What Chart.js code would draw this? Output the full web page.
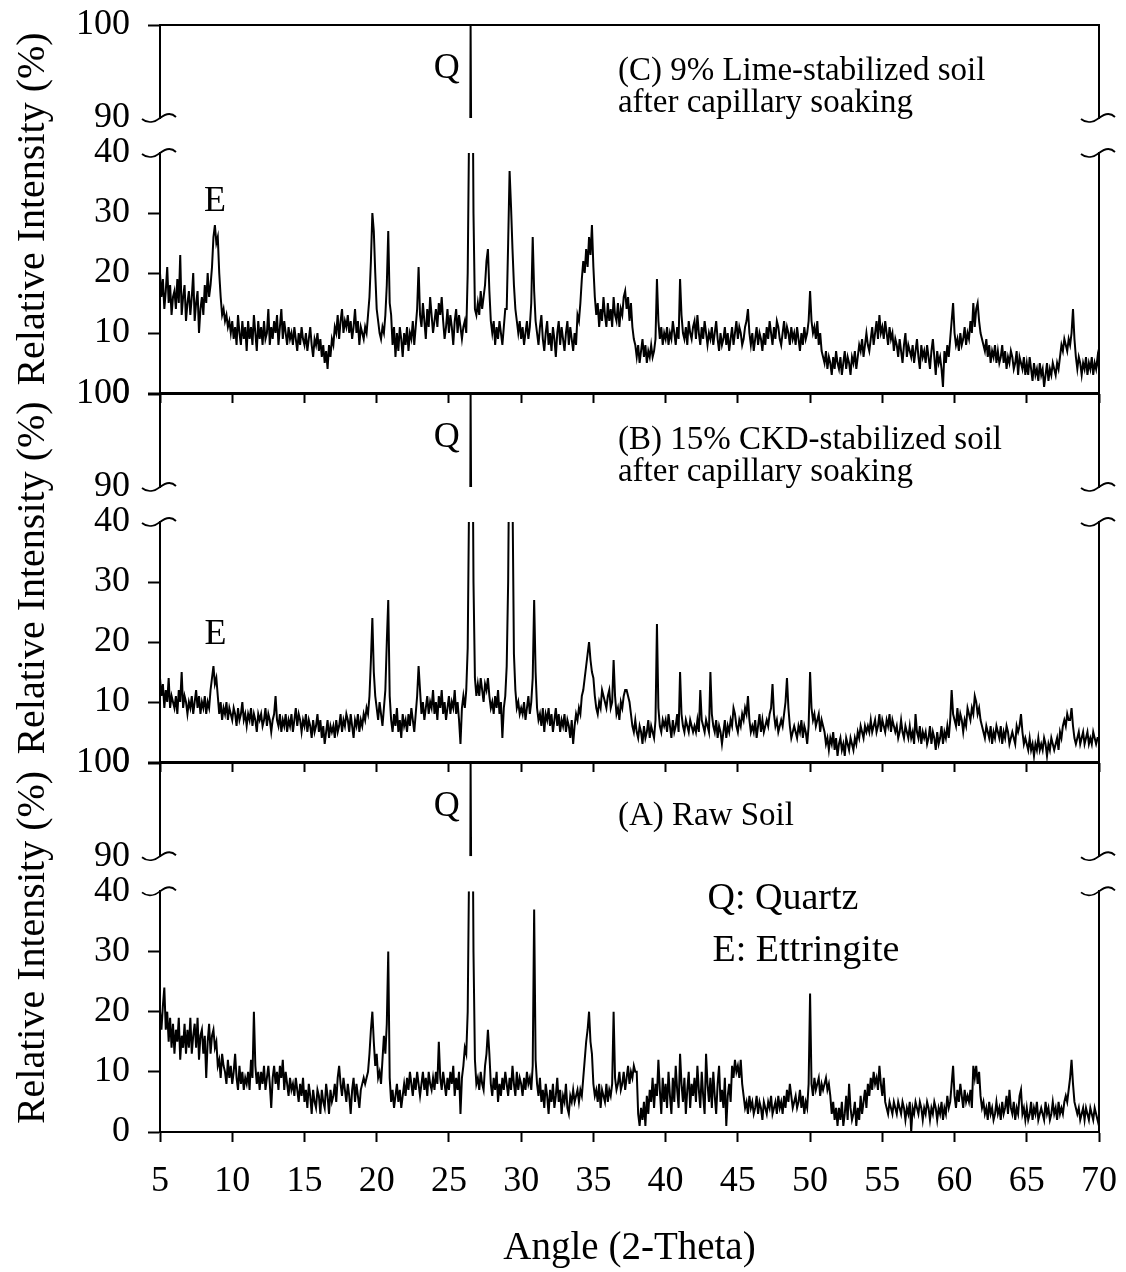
<!DOCTYPE html>
<html lang="en">
<head>
<meta charset="UTF-8">
<title>XRD patterns</title>
<style>
  body { margin: 0; background: #fff; }
  #wrap { position: relative; width: 1126px; height: 1272px; }
  #wrap canvas { position: absolute; left: 0; }
</style>
</head>
<body>
<div id="wrap">
  <canvas id="chartC"></canvas>
  <canvas id="chartB"></canvas>
  <canvas id="chartA"></canvas>
</div>
<script src="https://cdn.jsdelivr.net/npm/chart.js"></script>
<script>
// 2-theta sampling grid, 5.0 .. 70.0 in 0.1 steps
const angles = Array.from({length: 651}, (_, i) => Math.round(50 + i) / 10);

// (C) 9% lime-stabilized soil, one row per degree
const limeSoil = [
  20,16,19,14,17,21,15,18,13,16,  17,14,19,15,23,13,16,18,12,15,
  17,13,16,20,12,15,17,10,14,16,  13,18,15,20,16,18,21,26,28,25,
  26,20,16,13,14,12,13,11,12,10,  12,9,11,8,13,10,8,12,9,11,
  7,12,9,11,8,13,10,7,12,9,       11,8,12,9,10,14,8,11,9,12,
  10,13,8,11,14,9,12,10,8,11,     9,10,8,11,9,7,10,8,11,9,
  8,10,7,9,11,8,6,9,8,10,         7,9,6,8,5,7,4,8,6,9,
  8,11,10,13,9,12,14,10,12,11,    13,10,12,9,11,14,10,12,8,11,
  10,9,11,10,13,16,22,30,27,20,   14,12,10,9,11,10,13,18,27,15,
  13,8,11,6,10,7,11,9,6,10,       8,11,7,10,9,12,8,11,14,21,
  13,11,15,12,9,14,11,16,13,10,   12,14,11,15,13,16,12,9,11,14,
  10,13,11,8,12,14,10,13,11,9,    11,12,10,20,45,100,70,30,14,13,
  15,13,17,14,16,18,22,24,17,12,  10,12,8,11,9,12,10,8,11,14,
  14,25,37,31,24,18,14,12,10,12,  9,11,8,10,12,9,11,15,26,17,
  12,10,8,11,13,9,7,10,12,8,      10,7,11,9,6,10,12,8,11,9,
  7,10,12,8,11,9,7,10,8,13,       12,15,19,22,20,24,21,26,23,28,
  21,16,13,15,11,14,12,16,13,11,  15,12,14,11,16,13,12,15,11,14,
  13,16,17,14,16,12,15,11,9,8,    6,8,5,7,9,6,8,5,7,6,
  8,6,7,9,19,12,9,11,8,10,        9,11,8,10,9,12,10,8,11,9,
  19,13,10,9,11,8,12,10,9,11,     12,9,13,10,8,11,9,12,10,8,
  10,9,11,8,10,12,9,7,10,8,       9,11,8,10,7,9,11,8,10,12,
  9,11,10,8,9,11,12,14,10,8,      10,7,9,11,8,10,9,7,10,8,
  11,9,12,10,8,11,9,12,11,9,      8,10,12,9,11,10,8,11,9,10,
  8,11,9,7,10,8,11,9,10,12,       17,12,10,11,9,12,8,10,7,6,
  5,7,4,6,5,3,6,4,7,5,            4,6,3,5,7,4,6,5,3,6,
  5,7,4,6,8,7,9,6,8,10,           8,7,9,11,8,10,12,9,13,10,
  11,9,12,10,8,11,9,10,7,9,       8,6,9,7,5,8,10,6,8,7,
  6,8,5,7,9,6,4,8,6,7,            5,8,6,4,7,9,6,3,7,5,
  6,4,1,7,5,8,6,9,12,15,          10,8,9,7,10,8,9,11,8,10,
  9,12,10,15,11,14,15,12,10,9,    8,7,9,6,8,5,7,6,8,5,
  7,5,6,8,5,7,4,6,5,7,            6,4,5,7,3,6,5,4,6,3,
  5,3,6,4,2,5,3,4,2,5,            3,4,1,3,5,2,4,3,5,4,
  3,5,4,6,8,7,9,8,7,9,            8,10,14,9,6,4,6,5,3,5,
  4,6,3,5,4,6,3,5,4,6,
  4
];

// (B) 15% CKD-stabilized soil
const ckdSoil = [
  14,11,13,9,12,10,14,9,11,10,    9,11,8,12,10,15,9,11,10,8,
  10,9,11,8,10,12,9,11,8,10,      9,11,8,10,9,12,14,16,13,14,
  11,8,10,7,9,8,10,7,9,8,         7,9,8,6,9,7,8,10,7,8,
  6,8,7,9,6,8,7,5,8,7,            8,6,7,9,6,8,7,5,7,8,
  11,7,6,8,5,7,6,8,5,7,           6,8,5,7,9,6,8,7,5,7,
  6,8,5,7,6,4,7,5,6,8,            5,7,4,6,3,5,7,4,6,5,
  6,4,7,5,6,8,5,7,6,8,            7,5,8,6,4,7,6,8,5,7,
  6,8,7,9,8,11,17,24,15,11,       9,7,10,8,6,9,12,20,27,11,
  7,5,8,6,9,5,7,4,8,6,            7,5,8,6,9,7,5,8,11,16,
  12,8,10,7,9,11,8,10,9,12,       8,10,7,11,9,12,8,10,7,9,
  11,8,10,9,12,8,10,7,3,9,        11,9,12,19,45,100,70,30,14,11,
  13,11,14,12,10,13,12,14,11,9,   10,8,11,9,12,8,10,4,9,11,
  16,30,60,65,45,18,12,9,10,8,    9,8,10,7,9,11,8,10,14,27,
  15,9,7,8,6,9,5,8,7,9,           6,8,5,7,9,6,8,5,7,6,
  8,5,7,6,4,7,3,6,8,7,            9,8,11,12,14,16,18,20,17,15,
  14,11,9,8,10,9,12,11,10,9,      11,12,9,10,17,11,8,9,7,10,
  9,11,12,12,11,10,8,6,5,7,       5,4,6,5,3,6,4,5,7,4,
  6,5,4,7,23,9,6,5,7,6,           7,5,8,6,4,7,5,6,8,5,
  15,8,6,5,7,6,5,7,6,5,           6,5,7,5,12,7,6,5,7,6,
  5,15,8,6,5,7,4,6,5,3,           5,7,4,6,5,7,6,9,8,6,
  5,7,6,8,7,9,8,11,7,5,           6,5,7,4,6,8,5,7,5,6,
  7,6,8,9,13,8,6,7,5,6,           7,6,8,10,14,9,6,4,5,6,
  5,4,6,5,7,4,6,5,3,6,            15,9,7,8,6,7,8,5,7,6,
  5,3,4,2,4,3,5,2,4,1,            3,4,2,3,1,4,3,2,4,3,
  2,4,3,5,4,6,5,4,6,5,            6,5,7,5,6,7,5,6,8,5,
  7,6,5,7,6,8,5,7,6,5,            6,4,5,7,5,4,6,5,4,6,
  4,5,3,8,5,4,6,3,5,4,            5,3,4,6,3,5,4,2,5,3,
  4,6,3,5,4,6,4,7,12,8,           7,6,9,6,8,7,5,7,6,9,
  8,7,9,8,11,10,8,9,7,6,          5,4,6,5,4,6,3,5,4,6,
  5,4,6,3,5,4,6,5,3,4,            5,4,3,6,5,6,8,5,3,4,
  3,2,4,2,3,1,3,2,4,2,            3,2,4,3,1,3,2,4,3,2,
  3,4,2,5,4,6,7,6,8,7,            7,9,6,4,3,4,5,3,4,5,
  3,4,5,3,4,3,5,4,3,4,
  4
];

// (A) raw soil
const rawSoil = [
  20,17,21,24,17,20,15,19,14,18,  13,17,15,19,12,16,14,18,13,17,
  14,19,13,16,18,14,19,12,16,17,  13,16,9,15,18,13,16,17,14,15,
  11,12,9,13,11,10,8,12,9,11,     8,10,13,9,7,11,8,10,7,9,
  8,10,7,12,9,20,11,8,10,7,       10,8,11,7,9,11,8,4,9,11,
  8,10,7,11,9,12,7,10,8,6,        9,7,8,6,9,7,5,8,6,9,
  5,7,4,8,6,3,7,5,4,7,            6,3,7,5,4,8,6,3,7,5,
  6,8,5,9,11,8,6,9,7,5,           8,6,3,7,9,5,8,6,4,7,
  8,9,8,9,10,13,17,20,15,11,      13,9,10,8,12,16,13,18,30,9,
  5,7,4,6,8,5,7,4,6,8,            6,9,7,10,8,6,9,7,10,8,
  6,8,10,7,9,6,10,8,7,9,          7,10,8,15,9,7,10,8,6,9,
  7,10,8,11,6,9,7,10,3,9,         11,14,13,20,45,100,70,30,12,8,
  9,7,10,8,7,11,13,17,13,8,       6,9,7,10,5,8,6,9,7,10,
  8,6,9,7,11,8,6,10,7,9,          8,6,9,7,10,8,9,7,11,37,
  12,8,6,9,5,7,4,8,6,3,           7,5,8,4,6,9,5,7,3,6,
  5,8,4,3,6,5,7,5,6,7,            5,7,6,9,12,15,17,20,15,13,
  8,6,7,5,8,4,7,6,5,8,            5,7,6,8,20,9,7,8,10,7,
  8,10,7,9,11,8,10,9,11,10,       10,3,1,4,2,5,1,6,3,7,
  5,9,4,8,6,12,7,3,9,5,           8,4,10,6,3,9,5,11,7,4,
  13,8,5,9,3,7,10,4,8,6,          9,5,11,7,4,10,6,3,13,8,
  5,9,4,10,6,3,8,11,5,7,          4,9,1,6,8,5,11,9,12,10,
  11,9,12,8,6,4,5,3,6,4,          5,3,4,6,3,5,4,2,5,4,
  3,5,4,6,3,4,5,3,6,4,            5,3,6,4,7,5,8,6,4,5,
  6,4,5,7,4,6,3,5,4,8,            23,8,6,9,7,8,9,6,8,7,
  8,9,7,8,6,3,5,2,4,1,            4,2,5,1,3,6,2,8,4,2,
  3,5,1,4,2,6,3,5,7,4,            8,6,9,7,10,8,9,7,11,8,
  6,9,5,4,3,5,4,3,5,4,            3,5,4,3,5,4,2,4,3,5,
  0,4,3,5,4,3,5,4,2,4,            3,5,4,2,4,3,5,4,2,4,
  3,5,2,4,3,6,4,5,8,11,           6,4,7,5,8,6,4,7,5,6,
  5,7,4,11,9,11,8,10,6,4,         5,3,4,2,5,3,4,2,3,5,
  3,4,2,5,3,4,6,3,7,4,            3,5,2,4,3,6,7,3,4,2,
  4,2,3,5,2,4,3,5,2,3,            4,3,2,5,3,4,2,3,5,3,
  4,2,5,3,4,3,5,6,5,7,            9,12,8,5,4,3,4,2,3,4,
  2,4,3,2,4,3,2,4,3,2,
  1
];

// axis ranges of the broken y axis and the x axis
const lowBand = [0, 40];
const highBand = [90, 100];
const angleRange = [5, 70];

const serif = "'Liberation Serif', 'Times New Roman', serif";
Chart.defaults.font.family = serif;
Chart.defaults.color = '#000';

// fixed box size, and no label overhang padding (keeps all panels aligned)
const fixBox = (w, h) => s => {
  if (w !== null) s.width = w;
  if (h !== null) s.height = h;
  s.paddingLeft = 0; s.paddingRight = 0; s.paddingTop = 0; s.paddingBottom = 0;
};

// keep each trace inside its own y band, so the break stays empty
const clipToBand = {
  id: 'clipToBand',
  beforeDatasetDraw(chart, args) {
    const {xScale, yScale} = args.meta;
    const ctx = chart.ctx;
    ctx.save();
    ctx.beginPath();
    ctx.rect(xScale.left, yScale.top, xScale.right - xScale.left, yScale.bottom - yScale.top);
    ctx.clip();
  },
  afterDatasetDraw(chart) {
    chart.ctx.restore();
  }
};

// "~" marks where the y axis is broken, both sides
const axisBreaks = {
  id: 'axisBreaks',
  afterDraw(chart) {
    const ctx = chart.ctx, s = chart.scales, a = chart.chartArea;
    ctx.save();
    ctx.strokeStyle = '#000';
    ctx.lineWidth = 1.8;
    [a.left, a.right].forEach(x => {
      [s.yHi.bottom, s.yLo.top].forEach(y => {
        ctx.beginPath();
        ctx.moveTo(x - 18, y + 1);
        ctx.bezierCurveTo(x - 12, y + 6, x - 5, y + 4, x, y);
        ctx.bezierCurveTo(x + 5, y - 4, x + 11, y - 6, x + 16, y - 1);
        ctx.stroke();
      });
    });
    ctx.restore();
  }
};

// text labels placed in data coordinates
const notes = {
  id: 'notes',
  afterDraw(chart, args, opts) {
    const ctx = chart.ctx, x = chart.scales.x;
    ctx.save();
    ctx.fillStyle = '#000';
    ctx.textBaseline = 'alphabetic';
    (opts.items || []).forEach(n => {
      ctx.font = n.size + 'px ' + serif;
      ctx.textAlign = n.align || 'left';
      ctx.fillText(n.text, x.getPixelForValue(n.x), chart.scales[n.axis].getPixelForValue(n.y));
    });
    ctx.restore();
  }
};

const hideAtBreak = c => (c.tick && (c.tick.value === 90 || c.tick.value === 40)) ? 'rgba(0,0,0,0)' : '#000';

function bandAxis(range, weight, stackWeight, showTicks) {
  return {
    type: 'linear', position: 'left', stack: 'left', weight: weight, stackWeight: stackWeight,
    min: range[0], max: range[1],
    ticks: {display: showTicks, stepSize: 10, padding: 18, autoSkip: false, font: {size: 36}},
    grid: {display: showTicks, drawOnChartArea: false, drawTicks: true, tickLength: 12, tickWidth: 2, tickColor: hideAtBreak},
    border: {display: showTicks, color: '#000', width: 2},
    afterFit: fixBox(94, null)
  };
}

function rightAxis(weight, stackWeight, showLine) {
  return {
    type: 'linear', position: 'right', stack: 'right', weight: weight, stackWeight: stackWeight,
    min: 0, max: 1,
    ticks: {display: false},
    grid: {display: false},
    border: {display: showLine, color: '#000', width: 2},
    afterFit: fixBox(27, null)
  };
}

function makePanel(id, values, top, height, xHeight, showX, items) {
  const canvas = document.getElementById(id);
  canvas.width = 1126;
  canvas.height = height;
  canvas.style.top = top + 'px';
  const trace = {borderColor: '#000', borderWidth: 2, pointRadius: 0, tension: 0};
  new Chart(canvas, {
    type: 'line',
    data: {
      labels: angles,
      datasets: [
        Object.assign({data: values, yAxisID: 'yLo'}, trace),
        Object.assign({data: values, yAxisID: 'yHi'}, trace)
      ]
    },
    options: {
      responsive: false,
      animation: false,
      devicePixelRatio: 1,
      layout: {padding: {top: 25, left: 0, right: 0, bottom: 0}},
      plugins: {legend: {display: false}, tooltip: {enabled: false}, notes: {items: items}},
      scales: {
        x: {
          type: 'linear', position: 'bottom', min: angleRange[0], max: angleRange[1],
          ticks: {display: showX, stepSize: 5, padding: 18, font: {size: 36}, maxRotation: 0, autoSkip: false},
          grid: {display: true, drawOnChartArea: false, drawTicks: true, tickLength: 10, tickWidth: 2, tickColor: '#000'},
          border: {display: true, color: '#000', width: 2},
          title: {display: showX, text: 'Angle (2-Theta)', font: {size: 39}, padding: 0},
          afterFit: fixBox(null, xHeight)
        },
        xTop: {
          type: 'linear', position: 'top', min: angleRange[0], max: angleRange[1],
          ticks: {display: false}, grid: {display: false},
          border: {display: true, color: '#000', width: 2},
          afterFit: fixBox(null, 0)
        },
        yTitle: {
          type: 'linear', position: 'left', weight: 10, min: 0, max: 1,
          ticks: {display: false}, grid: {display: false}, border: {display: false},
          title: {display: true, text: 'Relative Intensity (%)', font: {size: 40}, padding: {top: 9, bottom: 0}},
          afterFit: fixBox(66, null)
        },
        yHi: bandAxis(highBand, 3, 93, true),
        yGap: Object.assign(bandAxis([0, 1], 2, 35, false), {ticks: {display: false}}),
        yLo: bandAxis(lowBand, 1, 240, true),
        yHiR: rightAxis(1, 93, true),
        yGapR: rightAxis(2, 35, false),
        yLoR: rightAxis(3, 240, true)
      }
    },
    plugins: [clipToBand, axisBreaks, notes]
  });
}

makePanel('chartC', limeSoil, 0, 420, 27, false, [
  {text: 'Q', x: 24.85, y: 94.3, axis: 'yHi', size: 36, align: 'center'},
  {text: '(C) 9% Lime-stabilized soil', x: 36.7, y: 94.1, axis: 'yHi', size: 33},
  {text: 'after capillary soaking', x: 36.7, y: 90.6, axis: 'yHi', size: 33},
  {text: 'E', x: 8.8, y: 30.3, axis: 'yLo', size: 36, align: 'center'}
]);
makePanel('chartB', ckdSoil, 369, 420, 27, false, [
  {text: 'Q', x: 24.85, y: 94.3, axis: 'yHi', size: 36, align: 'center'},
  {text: '(B) 15% CKD-stabilized soil', x: 36.7, y: 94.1, axis: 'yHi', size: 33},
  {text: 'after capillary soaking', x: 36.7, y: 90.6, axis: 'yHi', size: 33},
  {text: 'E', x: 8.85, y: 19.7, axis: 'yLo', size: 36, align: 'center'}
]);
makePanel('chartA', rawSoil, 738, 534, 140, true, [
  {text: 'Q', x: 24.85, y: 94.3, axis: 'yHi', size: 36, align: 'center'},
  {text: '(A) Raw Soil', x: 36.7, y: 93.3, axis: 'yHi', size: 33},
  {text: 'Q: Quartz', x: 42.9, y: 37, axis: 'yLo', size: 38},
  {text: 'E: Ettringite', x: 43.25, y: 28.5, axis: 'yLo', size: 38}
]);
</script>
</body>
</html>
